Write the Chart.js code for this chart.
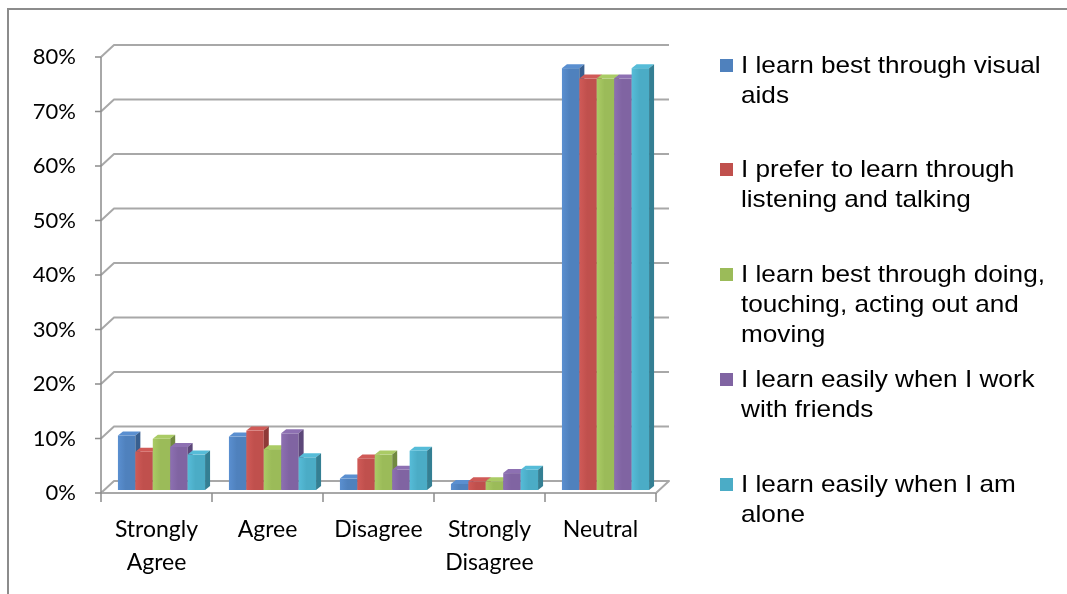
<!DOCTYPE html>
<html>
<head>
<meta charset="utf-8">
<script src="https://cdn.jsdelivr.net/npm/chart.js@4/dist/chart.umd.min.js"></script>
<style>
  html, body { margin: 0; padding: 0; background: #fff; }
  #wrap { position: relative; width: 1067px; height: 594px; overflow: hidden; }
  #frame { position: absolute; left: 7px; top: 8px; width: 1200px; height: 700px;
           border-left: 2px solid #8c8c8c; border-top: 2px solid #8c8c8c; }
  #c { position: absolute; left: 0; top: 0; }
  .item { position: absolute; left: 720px; font-family: "Liberation Sans", Arial, sans-serif;
          font-size: 24px; line-height: 30px; color: #000; }
  .item .sw { position: absolute; left: 0; top: 9px; width: 13px; height: 13px; }
  .item .tx { position: absolute; left: 21px; top: 0; white-space: nowrap;
              transform: scaleX(1.09); transform-origin: left top; }
</style>
</head>
<body>
<div id="wrap">
  <div id="frame"></div>
  <canvas id="c" width="1067" height="594"></canvas>
  <div id="legend"></div>
</div>
<script>
const categories = [['Strongly', 'Agree'], 'Agree', 'Disagree', ['Strongly', 'Disagree'], 'Neutral'];
const yTickValues = [0, 10, 20, 30, 40, 50, 60, 70, 80];

const visualAids = [10, 9.8, 2.1, 1.1, 77.4];
const listeningTalking = [7, 10.9, 5.8, 1.6, 75.5];
const doingMoving = [9.4, 7.5, 6.5, 1.6, 75.5];
const withFriends = [7.9, 10.4, 3.7, 3.1, 75.5];
const alone = [6.5, 6, 7.2, 3.7, 77.4];

const seriesNames = [
  ['I learn best through visual', 'aids'],
  ['I prefer to learn through', 'listening and talking'],
  ['I learn best through doing,', 'touching, acting out and', 'moving'],
  ['I learn easily when I work', 'with friends'],
  ['I learn easily when I am', 'alone']
];
const seriesData = [visualAids, listeningTalking, doingMoving, withFriends, alone];

// front / top / side colours per series
const fronts = ['#4f81bd', '#c0504d', '#9bbb59', '#8064a2', '#4bacc6'];
const tops   = ['#5a8fd0', '#d05a57', '#aacb65', '#8d70b2', '#56bcd8'];
const sides  = ['#385f8f', '#8f3a38', '#718a40', '#5c4779', '#347f93'];

const wall = { dx: 13, dy: 12 };
const bar3d = { dx: 5, dy: 4, shiftX: 5, shiftY: -3 };

// legend
const legendTops = [50, 154, 259, 364, 469];
const legend = document.getElementById('legend');
seriesNames.forEach((lines, i) => {
  const d = document.createElement('div');
  d.className = 'item';
  d.style.top = legendTops[i] + 'px';
  d.innerHTML = '<div class="sw" style="background:' + fronts[i] + '"></div>' +
    '<div class="tx">' + lines.join('<br>') + '</div>';
  legend.appendChild(d);
});

const wallPlugin = {
  id: 'wall',
  beforeDatasetsDraw(chart) {
    const { ctx, chartArea: a, scales: { x, y } } = chart;
    ctx.save();
    ctx.strokeStyle = '#a8a8a8';
    ctx.lineWidth = 2;
    ctx.lineJoin = 'round';
    y.ticks.forEach(t => {
      const py = y.getPixelForValue(t.value);
      ctx.beginPath();
      ctx.moveTo(a.left, py);
      ctx.lineTo(a.left + wall.dx, py - wall.dy);
      ctx.lineTo(a.right + wall.dx, py - wall.dy);
      if (t.value === 0) {
        ctx.lineTo(a.right, py);
        ctx.lineTo(a.left, py);
      }
      ctx.stroke();
    });
    // axis lines and tick marks
    ctx.strokeStyle = '#8c8c8c';
    ctx.lineWidth = 1.5;
    ctx.beginPath();
    ctx.moveTo(a.left, y.getPixelForValue(yTickValues[yTickValues.length - 1]));
    ctx.lineTo(a.left, a.bottom + 9);
    y.ticks.forEach(t => {
      const py = y.getPixelForValue(t.value);
      ctx.moveTo(a.left - 6, py);
      ctx.lineTo(a.left, py);
    });
    const n = categories.length;
    for (let i = 1; i <= n; i++) {
      const px = i === n ? a.right : (x.getPixelForValue(i - 1) + x.getPixelForValue(i)) / 2;
      ctx.moveTo(px, a.bottom);
      ctx.lineTo(px, a.bottom + 9);
    }
    ctx.stroke();
    ctx.restore();
  },
  afterDatasetsDraw(chart) {
    const { ctx } = chart;
    ctx.save();
    const n = categories.length;
    for (let c = 0; c < n; c++) {
      chart.data.datasets.forEach((ds, i) => {
        const meta = chart.getDatasetMeta(i);
        const el = meta.data[c];
        const p = el.getProps(['x', 'y', 'base', 'width'], true);
        const l = p.x - p.width / 2 + bar3d.shiftX;
        const r = p.x + p.width / 2 + bar3d.shiftX;
        const t = p.y + bar3d.shiftY;
        const b = p.base + bar3d.shiftY;
        const g = ctx.createLinearGradient(l, 0, r, 0);
        g.addColorStop(0, tops[i]);
        g.addColorStop(0.45, fronts[i]);
        g.addColorStop(1, fronts[i]);
        ctx.fillStyle = g;
        ctx.fillRect(l, t, r - l, b - t);
        // top face
        ctx.fillStyle = tops[i];
        ctx.beginPath();
        ctx.moveTo(l, t);
        ctx.lineTo(l + bar3d.dx, t - bar3d.dy);
        ctx.lineTo(r + bar3d.dx, t - bar3d.dy);
        ctx.lineTo(r, t);
        ctx.closePath();
        ctx.fill();
        // side face
        ctx.fillStyle = sides[i];
        ctx.beginPath();
        ctx.moveTo(r, t);
        ctx.lineTo(r + bar3d.dx, t - bar3d.dy);
        ctx.lineTo(r + bar3d.dx, b - bar3d.dy);
        ctx.lineTo(r, b);
        ctx.closePath();
        ctx.fill();
      });
    }
    ctx.restore();
  }
};

new Chart(document.getElementById('c'), {
  type: 'bar',
  data: {
    labels: categories,
    datasets: seriesData.map((d, i) => ({
      label: seriesNames[i].join(' '),
      data: d,
      backgroundColor: 'rgba(0,0,0,0)',
      borderWidth: 0,
      categoryPercentage: 0.785,
      barPercentage: 1
    }))
  },
  options: {
    responsive: false,
    animation: false,
    layout: { padding: { left: 0, top: 57, right: 411, bottom: 0 } },
    plugins: { legend: { display: false }, tooltip: { enabled: false } },
    scales: {
      x: {
        grid: { display: false, drawTicks: false },
        border: { display: false },
        ticks: {
          color: '#000',
          padding: 20,
          maxRotation: 0,
          autoSkip: false,
          font: { family: 'Lato', size: 23, lineHeight: 1.45 }
        },
        afterFit(scale) { scale.height = 101; }
      },
      y: {
        min: 0,
        max: 80,
        grid: { display: false, drawTicks: false },
        border: { display: false },
        afterBuildTicks(scale) { scale.ticks = yTickValues.map(v => ({ value: v })); },
        ticks: {
          color: '#000',
          padding: 25,
          font: { family: 'Lato', size: 22 },
          callback: v => v + '%'
        },
        afterFit(scale) { scale.width = 101; }
      }
    }
  },
  plugins: [wallPlugin]
});
</script>
</body>
</html>
